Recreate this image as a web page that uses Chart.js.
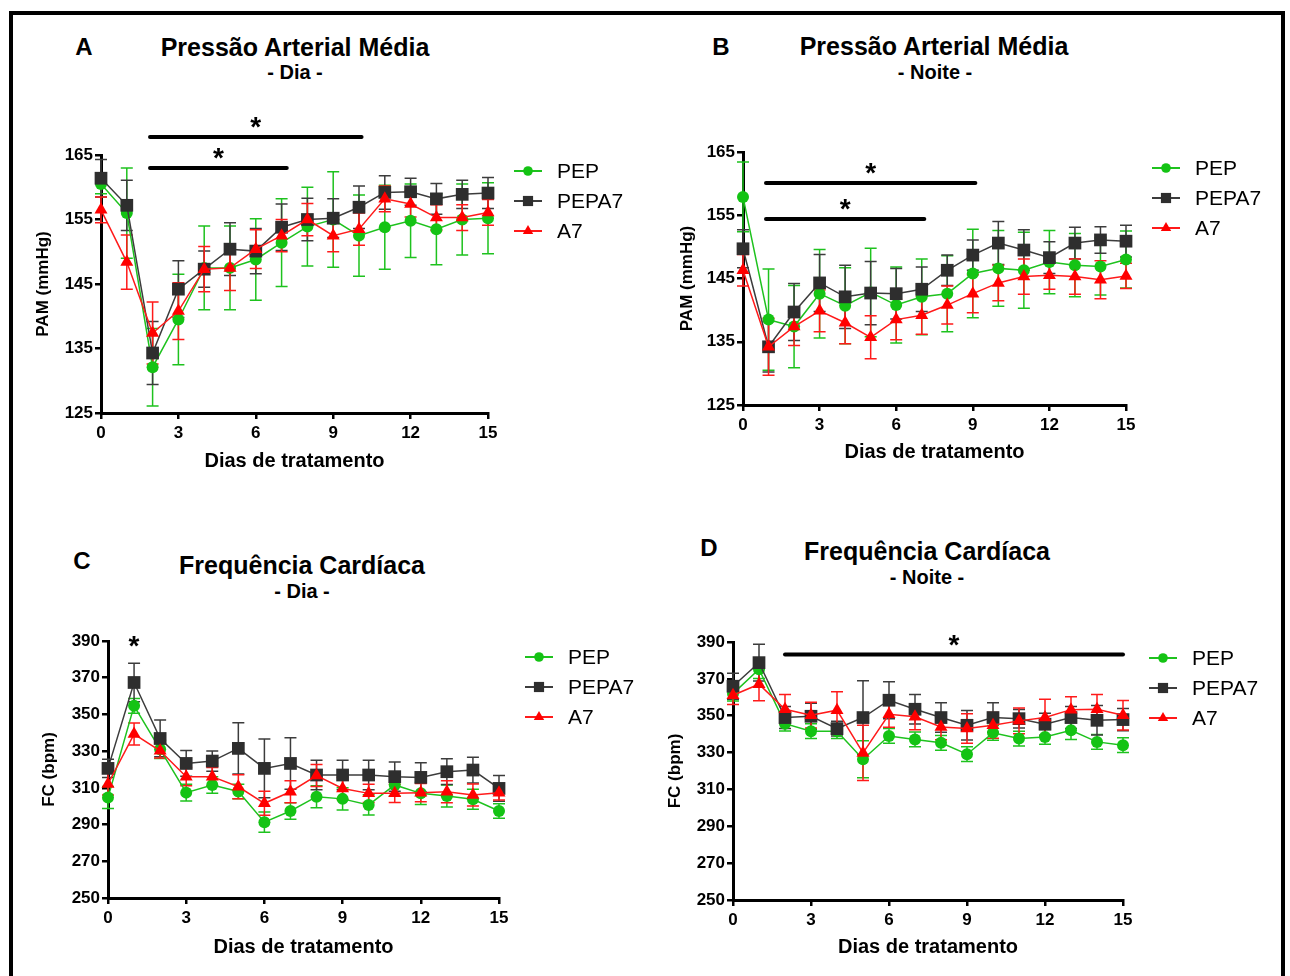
<!DOCTYPE html>
<html>
<head>
<meta charset="utf-8">
<title>PAM e FC</title>
<script src="https://cdn.jsdelivr.net/npm/chart.js@4.4.1/dist/chart.umd.min.js"></script>
<style>
  body { margin: 0; background: #fff; width: 1290px; height: 976px; overflow: hidden; position: relative;
         font-family: "Liberation Sans", Arial, sans-serif; color: #000; }
  #frame { position: absolute; left: 9px; top: 11px; width: 1276px; height: 1000px; border: 4px solid #000; box-sizing: border-box; }
  .txt { position: absolute; font-weight: bold; white-space: nowrap; text-align: center; line-height: 1; }
  .letter { font-size: 24px; width: 40px; }
  .title { font-size: 25px; width: 400px; }
  .sub { font-size: 20px; width: 200px; }
  canvas { position: absolute; }
</style>
</head>
<body>
<div id="frame"></div>

<div class="txt letter" style="left:64px; top:35px;">A</div>
<div class="txt title" style="left:95px; top:35px;">Pressão Arterial Média</div>
<div class="txt sub" style="left:195px; top:62px;">- Dia -</div>

<div class="txt letter" style="left:701px; top:35px;">B</div>
<div class="txt title" style="left:734px; top:34px;">Pressão Arterial Média</div>
<div class="txt sub" style="left:835px; top:62px;">- Noite -</div>

<div class="txt letter" style="left:62px; top:549px;">C</div>
<div class="txt title" style="left:102px; top:553px;">Frequência Cardíaca</div>
<div class="txt sub" style="left:202px; top:581px;">- Dia -</div>

<div class="txt letter" style="left:689px; top:536px;">D</div>
<div class="txt title" style="left:727px; top:539px;">Frequência Cardíaca</div>
<div class="txt sub" style="left:827px; top:567px;">- Noite -</div>

<canvas id="chartA" width="620" height="465" style="left:20px; top:20px;"></canvas>
<canvas id="chartB" width="620" height="458" style="left:660px; top:20px;"></canvas>
<canvas id="chartC" width="620" height="472" style="left:20px; top:500px;"></canvas>
<canvas id="chartD" width="620" height="472" style="left:660px; top:500px;"></canvas>

<script>
// dias de tratamento
const days = [0, 1, 2, 3, 4, 5, 6, 7, 8, 9, 10, 11, 12, 13, 14, 15];
const groups = ['PEP', 'PEPA7', 'A7'];

// A - PAM dia
const pamDiaPEP      = [160.5, 156.0, 132.1, 139.5, 147.5, 147.5, 148.8, 151.4, 153.9, 155.0, 152.5, 153.8, 154.8, 153.5, 155.0, 155.2];
const pamDiaPEPErr   = [1.5, 7.0, 6.0, 7.0, 6.5, 6.5, 6.3, 6.8, 6.1, 7.4, 6.3, 6.5, 5.7, 5.5, 5.5, 5.5];
const pamDiaPEPA7    = [161.4, 157.2, 134.3, 144.2, 147.3, 150.4, 150.1, 153.8, 155.0, 155.2, 156.9, 159.2, 159.3, 158.2, 158.9, 159.1];
const pamDiaPEPA7Err = [2.9, 3.9, 4.9, 4.4, 2.8, 4.1, 3.5, 3.6, 3.3, 3.0, 3.3, 2.6, 2.1, 2.4, 2.2, 2.4];
const pamDiaA7       = [156.5, 148.4, 137.4, 140.8, 147.3, 147.5, 150.4, 152.5, 155.0, 152.5, 153.5, 158.2, 157.4, 155.3, 155.3, 156.1];
const pamDiaA7Err    = [2.0, 4.2, 4.8, 4.4, 3.5, 3.5, 3.0, 2.5, 2.5, 2.5, 2.5, 2.0, 2.0, 2.0, 2.0, 2.0];

// B - PAM noite
const pamNoitePEP      = [157.9, 138.5, 137.4, 142.6, 140.7, 142.8, 140.8, 142.1, 142.6, 145.8, 146.6, 146.3, 147.6, 147.1, 146.9, 148.0];
const pamNoitePEPErr   = [5.5, 8.0, 6.5, 7.0, 6.0, 7.0, 6.0, 6.0, 6.0, 7.0, 6.0, 6.0, 5.0, 5.0, 4.5, 4.5];
const pamNoitePEPA7    = [149.7, 134.2, 139.7, 144.3, 142.1, 142.7, 142.6, 143.3, 146.3, 148.7, 150.6, 149.5, 148.3, 150.6, 151.1, 150.9];
const pamNoitePEPA7Err = [3.0, 4.0, 4.5, 4.5, 5.0, 5.0, 4.0, 3.5, 2.4, 2.4, 3.4, 3.2, 2.5, 2.5, 2.1, 2.5];
const pamNoiteA7       = [146.3, 134.2, 137.4, 139.9, 138.0, 135.7, 138.5, 139.2, 140.8, 142.6, 144.3, 145.3, 145.5, 145.3, 144.8, 145.4];
const pamNoiteA7Err    = [2.5, 4.5, 3.0, 3.3, 3.3, 3.4, 3.2, 3.0, 3.0, 3.0, 2.8, 2.8, 2.2, 2.8, 3.0, 2.0];

// C - FC dia
const fcDiaPEP      = [304.7, 354.7, 331.0, 307.4, 311.6, 308.0, 291.3, 297.4, 305.2, 304.0, 300.7, 311.6, 307.0, 305.6, 303.8, 297.4];
const fcDiaPEPErr   = [6, 4, 5, 4.5, 4.5, 4, 5.5, 4.5, 6, 6, 5.5, 6, 6, 6, 5.5, 4];
const fcDiaPEPA7    = [320.6, 367.4, 336.9, 323.3, 324.6, 331.5, 320.6, 323.3, 317.0, 317.0, 317.0, 316.1, 315.7, 318.8, 319.7, 309.7];
const fcDiaPEPA7Err = [5, 10.5, 10, 7, 5.5, 14, 16, 14, 8, 8, 8, 8, 8, 7, 7, 7];
const fcDiaA7       = [312.1, 339.3, 330.2, 316.1, 316.1, 310.6, 301.6, 307.9, 316.7, 309.7, 307.0, 307.0, 307.4, 307.9, 306.1, 307.4];
const fcDiaA7Err    = [6, 6, 4, 5, 5, 6.5, 6.5, 6, 6, 6, 5, 5, 5, 6, 6, 4];

// D - FC noite
const fcNoitePEP      = [362.0, 375.2, 345.7, 341.6, 341.6, 326.4, 339.0, 337.1, 335.3, 329.1, 340.7, 337.6, 338.5, 342.1, 335.8, 334.0];
const fcNoitePEPErr   = [4, 5, 4, 4, 4, 10, 4, 4, 4, 4, 4, 4, 4, 5, 4, 4];
const fcNoitePEPA7    = [366.0, 378.8, 349.0, 349.7, 343.0, 349.0, 358.4, 353.5, 349.0, 344.8, 349.0, 348.4, 345.4, 349.0, 347.5, 347.9];
const fcNoitePEPA7Err = [7, 10, 6, 7, 4, 20, 10, 8, 8, 8, 8, 5, 6, 6, 8, 6];
const fcNoiteA7       = [361.1, 367.1, 353.5, 350.3, 353.0, 329.8, 350.8, 349.4, 343.9, 343.0, 344.8, 347.2, 349.0, 353.3, 353.5, 350.3];
const fcNoiteA7Err    = [5, 9, 8, 7, 10, 15, 7, 7, 7, 8, 7, 7, 10, 7, 8, 8];

// barras de significancia: [dia inicial, dia final, valor]
const sigA = [[1.9, 10.1, 167.8], [1.9, 7.2, 163.0]];
const sigB = [[0.9, 9.1, 160.1], [0.9, 7.1, 154.4]];
const sigC = [[1, 1, 381.8]];
const sigD = [[2, 15, 383.2]];

Chart.defaults.font.family = '"Liberation Sans", Arial, sans-serif';
Chart.defaults.color = '#000';

/*************** error bars ***************/
const errorBars = {
  id: 'errorBars',
  beforeDatasetsDraw(chart) {
    const ctx = chart.ctx;
    const y = chart.scales.y;
    const idx = chart.data.datasets.map((d, i) => i).sort((a, b) => chart.data.datasets[b].order - chart.data.datasets[a].order);
    idx.forEach(i => {
      const ds = chart.data.datasets[i];
      const meta = chart.getDatasetMeta(i);
      ctx.save();
      ctx.strokeStyle = ds.borderColor;
      ctx.lineWidth = 1.5;
      meta.data.forEach((pt, j) => {
        const e = ds.errors[j];
        const top = y.getPixelForValue(ds.data[j] + e);
        const bot = y.getPixelForValue(ds.data[j] - e);
        ctx.beginPath();
        ctx.moveTo(pt.x, top); ctx.lineTo(pt.x, bot);
        ctx.moveTo(pt.x - 6, top); ctx.lineTo(pt.x + 6, top);
        ctx.moveTo(pt.x - 6, bot); ctx.lineTo(pt.x + 6, bot);
        ctx.stroke();
      });
      ctx.restore();
    });
  }
};

/*************** asteriscos ***************/
const sigBars = {
  id: 'sigBars',
  afterDatasetsDraw(chart, args, opts) {
    const {ctx, scales: {x, y}} = chart;
    (opts.bars || []).forEach(b => {
      const x1 = x.getPixelForValue(b[0]);
      const x2 = x.getPixelForValue(b[1]);
      const py = y.getPixelForValue(b[2]);
      ctx.save();
      if (x2 > x1) {
        ctx.strokeStyle = '#000';
        ctx.lineWidth = 4;
        ctx.lineCap = 'round';
        ctx.beginPath();
        ctx.moveTo(x1, py); ctx.lineTo(x2, py);
        ctx.stroke();
      }
      ctx.fillStyle = '#000';
      ctx.font = 'bold 28px "Liberation Sans", Arial, sans-serif';
      ctx.textAlign = 'center';
      ctx.textBaseline = 'alphabetic';
      ctx.fillText('*', (x1 + x2) / 2, py - 17 + 0.58 * 28);
      ctx.restore();
    });
  }
};

/*************** legenda lateral ***************/
const sideLegend = {
  id: 'sideLegend',
  afterDraw(chart) {
    const {ctx, chartArea} = chart;
    chart.data.datasets.forEach((ds, i) => {
      const cx = chartArea.right + 40;
      const cy = chartArea.top + 16 + 30 * i;
      ctx.save();
      ctx.strokeStyle = ds.borderColor;
      ctx.lineWidth = 2;
      ctx.beginPath();
      ctx.moveTo(cx - 14, cy); ctx.lineTo(cx + 14, cy);
      ctx.stroke();
      ctx.fillStyle = ds.pointBackgroundColor;
      Chart.helpers.drawPoint(ctx, {pointStyle: ds.pointStyle, radius: ds.pointRadius * 0.8, borderWidth: 0, rotation: 0}, cx, cy);
      ctx.fillStyle = '#000';
      ctx.font = '21px "Liberation Sans", Arial, sans-serif';
      ctx.textAlign = 'left';
      ctx.textBaseline = 'middle';
      ctx.fillText(ds.label, chartArea.right + 69, cy + 1);
      ctx.restore();
    });
  }
};

function series(label, values, errors, color, pointColor, style, radius, order) {
  return {
    label: label, data: values, errors: errors,
    borderColor: color, backgroundColor: pointColor,
    pointBackgroundColor: pointColor, pointBorderColor: pointColor,
    pointStyle: style, pointRadius: radius, pointBorderWidth: 0,
    borderWidth: 1.5, tension: 0, clip: false, order: order
  };
}

function makeChart(id, cfg) {
  return new Chart(document.getElementById(id), {
    type: 'line',
    data: {
      labels: days,
      datasets: [
        series(groups[0], cfg.pep, cfg.pepErr, '#1ec21e', '#14c314', 'circle', 6, 3),
        series(groups[1], cfg.pepa7, cfg.pepa7Err, '#3c3c3c', '#2e2e2e', 'rect', 9, 2),
        series(groups[2], cfg.a7, cfg.a7Err, '#ff1a1a', '#ff0000', 'triangle', 7.5, 1)
      ]
    },
    options: {
      responsive: false,
      animation: false,
      events: [],
      layout: {padding: {left: 0, top: cfg.padTop, right: cfg.padRight, bottom: 0}},
      plugins: {
        legend: {display: false},
        tooltip: {enabled: false},
        sigBars: {bars: cfg.sig}
      },
      scales: {
        x: {
          type: 'linear', min: 0, max: 15,
          ticks: {stepSize: 3, autoSkip: false, maxRotation: 0, padding: 4, font: {size: 17, weight: 'bold'}},
          grid: {drawOnChartArea: false, color: '#000', lineWidth: 2.5, tickLength: 6},
          border: {color: '#000', width: 3},
          title: {display: true, text: 'Dias de tratamento', font: {size: 20, weight: 'bold'}, padding: {top: 0, bottom: cfg.xTitlePad}},
          afterFit: s => { s.height = cfg.xH; }
        },
        y: {
          min: cfg.yMin, max: cfg.yMax,
          ticks: {stepSize: cfg.yStep, padding: 2, font: {size: 17, weight: 'bold'}},
          grid: {drawOnChartArea: false, color: '#000', lineWidth: 2.5, tickLength: 6},
          border: {color: '#000', width: 3},
          title: {display: true, text: cfg.yLabel, font: {size: 17, weight: 'bold'}, padding: {top: cfg.yTitlePad, bottom: 0}},
          afterFit: s => { s.width = cfg.yW; }
        }
      }
    },
    plugins: [errorBars, sigBars, sideLegend]
  });
}

makeChart('chartA', {
  pep: pamDiaPEP, pepErr: pamDiaPEPErr, pepa7: pamDiaPEPA7, pepa7Err: pamDiaPEPA7Err, a7: pamDiaA7, a7Err: pamDiaA7Err,
  sig: sigA, yMin: 125, yMax: 165, yStep: 10, yLabel: 'PAM (mmHg)',
  padTop: 135, padRight: 152, yW: 81, xH: 72, yTitlePad: 13, xTitlePad: 12
});
makeChart('chartB', {
  pep: pamNoitePEP, pepErr: pamNoitePEPErr, pepa7: pamNoitePEPA7, pepa7Err: pamNoitePEPA7Err, a7: pamNoiteA7, a7Err: pamNoiteA7Err,
  sig: sigB, yMin: 125, yMax: 165, yStep: 10, yLabel: 'PAM (mmHg)',
  padTop: 132, padRight: 154, yW: 83, xH: 73, yTitlePad: 17, xTitlePad: 14
});
makeChart('chartC', {
  pep: fcDiaPEP, pepErr: fcDiaPEPErr, pepa7: fcDiaPEPA7, pepa7Err: fcDiaPEPA7Err, a7: fcDiaA7, a7Err: fcDiaA7Err,
  sig: sigC, yMin: 250, yMax: 390, yStep: 20, yLabel: 'FC (bpm)',
  padTop: 141, padRight: 141, yW: 88, xH: 74, yTitlePad: 19, xTitlePad: 13
});
makeChart('chartD', {
  pep: fcNoitePEP, pepErr: fcNoitePEPErr, pepa7: fcNoitePEPA7, pepa7Err: fcNoitePEPA7Err, a7: fcNoiteA7, a7Err: fcNoiteA7Err,
  sig: sigD, yMin: 250, yMax: 390, yStep: 20, yLabel: 'FC (bpm)',
  padTop: 142, padRight: 157, yW: 73, xH: 72, yTitlePad: 5, xTitlePad: 13
});
</script>
</body>
</html>
